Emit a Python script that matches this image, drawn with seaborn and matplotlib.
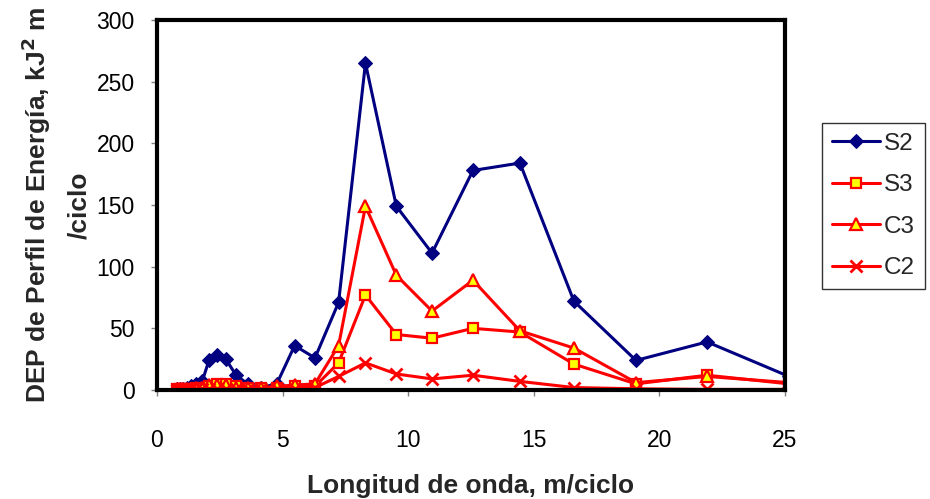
import matplotlib
matplotlib.use("Agg")
import matplotlib.pyplot as plt
import seaborn as sns
import pandas as pd

# Wavelength bands (m/ciclo)
longitud = [0.79, 0.90, 1.04, 1.19, 1.37, 1.57, 1.80, 2.07, 2.38, 2.74, 3.15, 3.61,
            4.15, 4.77, 5.48, 6.29, 7.23, 8.30, 9.53, 10.95, 12.58, 14.45, 16.60,
            19.07, 21.90, 25.16]

# Energy profile density per section
s2 = [1, 1, 1, 2, 3, 5, 7, 24, 28, 25, 12, 5, 2, 5, 36, 26, 71, 265, 149, 111,
      178, 184, 72, 24, 39, 11]
s3 = [0.5, 0.5, 1, 1, 1, 2, 2, 3, 5, 5, 3, 2, 2, 2, 3, 3, 22, 77, 45, 42,
      50, 47, 21, 5, 12, 5]
c3 = [0.5, 0.5, 1, 1, 1, 2, 2, 4, 4, 4, 2, 2, 2, 3, 4, 5, 36, 149, 93, 64,
      89, 48, 34, 6, 11, 6]
c2 = [0.2, 0.2, 0.3, 0.5, 0.5, 0.5, 1, 1, 1, 1, 1, 1, 1, 1, 1, 2, 11, 22, 13, 9,
      12, 7, 2, 1, 0.5, 0.5]

series = ["S2", "S3", "C3", "C2"]
x_ticks = [0, 5, 10, 15, 20, 25]
y_ticks = [0, 50, 100, 150, 200, 250, 300]

sns.set_theme(style="white")
plt.rcParams["font.family"] = ["Liberation Sans", "DejaVu Sans"]

fig = plt.figure(figsize=(9.3, 4.99), dpi=100)
ax = fig.add_axes([0.1688, 0.2184, 0.6752, 0.7416])

styles = {
    "S2": dict(color="#000080", marker="D", markersize=7, markerfacecolor="#000080",
               markeredgecolor="#000080"),
    "S3": dict(color="#ff0000", marker="s", markersize=7.5, markerfacecolor="#ffff00",
               markeredgecolor="#ff0000", markeredgewidth=1.6),
    "C3": dict(color="#ff0000", marker="^", markersize=8, markerfacecolor="#ffff00",
               markeredgecolor="#ff0000", markeredgewidth=1.6),
    "C2": dict(color="#ff0000", marker="x", markersize=8.5, markeredgecolor="#ff0000",
               markeredgewidth=2),
}

data = {"S2": s2, "S3": s3, "C3": c3, "C2": c2}
for name in series:
    df = pd.DataFrame({"x": longitud, "y": data[name]})
    sns.lineplot(data=df, x="x", y="y", ax=ax, label=name, linewidth=2.2,
                 estimator=None, sort=False, **styles[name])

ax.set_xlim(0, 25)
ax.set_ylim(0, 300)
ax.set_xticks(x_ticks)
ax.set_yticks(y_ticks)
ax.set_xticklabels([str(t) for t in x_ticks])
ax.set_yticklabels([str(t) for t in y_ticks])

for side in ["left", "right", "top", "bottom"]:
    ax.spines[side].set_visible(True)
    ax.spines[side].set_color("black")
    ax.spines[side].set_linewidth(3)

ax.tick_params(axis="both", which="major", direction="out", length=4, width=1,
               color="#808080", labelsize=16.5, labelcolor="black")
ax.tick_params(axis="x", pad=24, bottom=True)
ax.tick_params(axis="y", pad=12, left=True)

ax.set_xlabel("Longitud de onda, m/ciclo", fontsize=19, fontweight="bold", labelpad=16)
ax.set_ylabel("DEP de Perfil de Energía, kJ$^\\mathbf{2}$ m\n/ciclo", fontsize=19,
              fontweight="bold", labelpad=4, linespacing=1.75)

leg = ax.legend(loc="center left", bbox_to_anchor=(1.059, 0.497), fontsize=17.5,
                frameon=True, fancybox=False, edgecolor="black", handlelength=2.0,
                labelspacing=0.8, borderpad=0.4, handletextpad=0.15, borderaxespad=0)
leg.get_frame().set_linewidth(1.0)

fig.savefig("out.png", dpi=100, facecolor="white")
